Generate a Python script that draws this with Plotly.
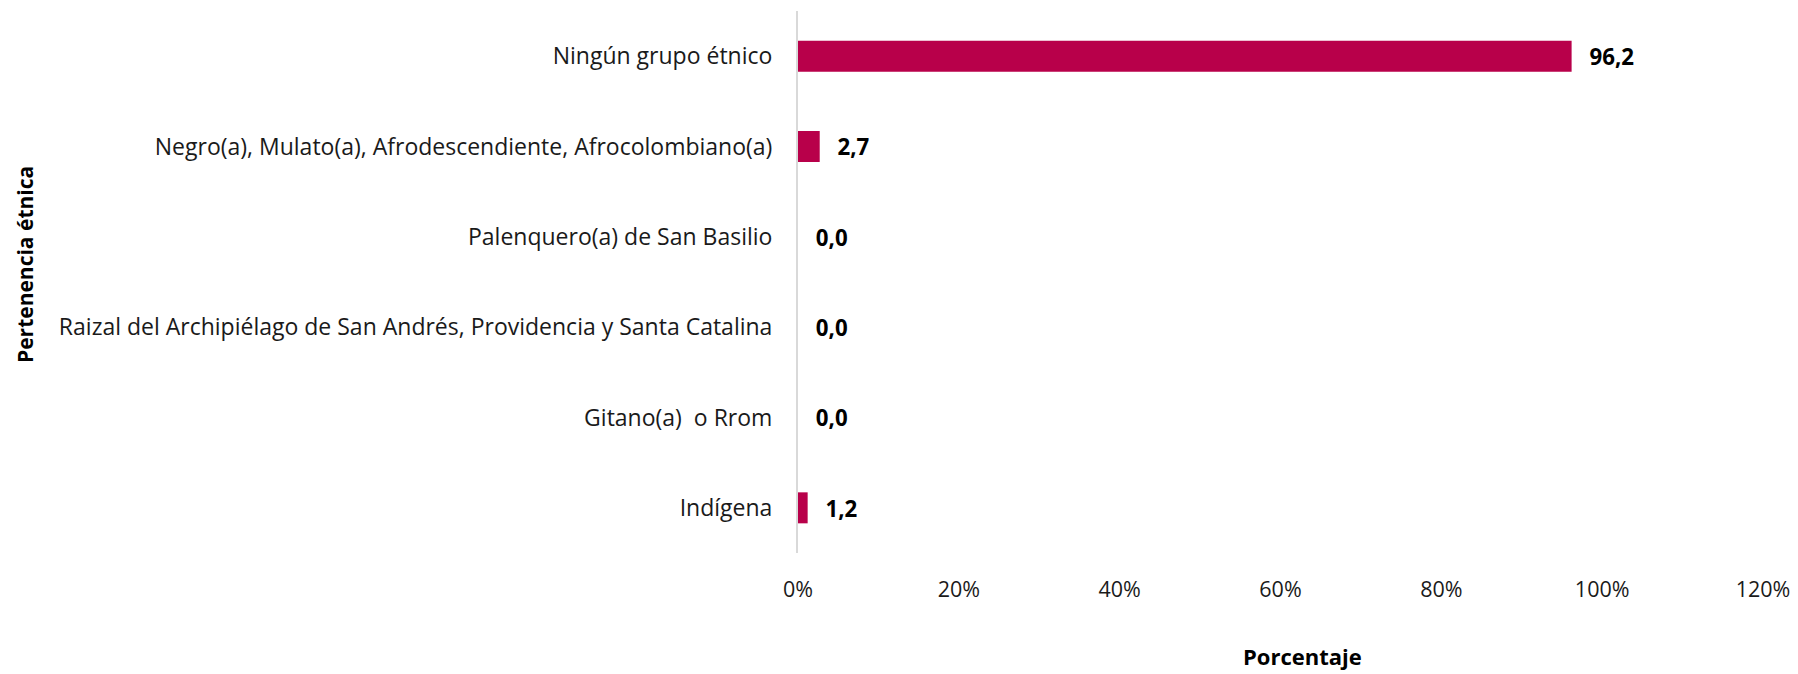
import plotly.graph_objects as go

categories = [
    "Ningún grupo étnico",
    "Negro(a), Mulato(a), Afrodescendiente, Afrocolombiano(a)",
    "Palenquero(a) de San Basilio",
    "Raizal del Archipiélago de San Andrés, Providencia y Santa Catalina",
    "Gitano(a)  o Rrom",
    "Indígena",
]
values = [96.2, 2.7, 0.0, 0.0, 0.0, 1.2]
x_ticks = [0, 20, 40, 60, 80, 100, 120]

# The page body has a default 8px margin, so the figure is laid out
# in a 1790x666 box that sits 8px right/down in the 1798x674 window.
OFF = 8
W, H = 1798 - OFF, 674 - OFF
L, T = 798 - OFF, 11 - OFF
plot_right, plot_bottom = 1763 - OFF, 553 - OFF
R, B = W - plot_right, H - plot_bottom
plot_w = W - L - R
plot_h = H - T - B

FONT = "Open Sans"

fig = go.Figure(
    go.Bar(
        x=values,
        y=categories,
        orientation="h",
        marker=dict(color="#B8004A", line=dict(width=0)),
        text=["\u2002\u2009" + f"{v:.1f}".replace(".", ",") for v in values],
        textposition="outside",
        textfont=dict(family=FONT, size=23, color="#000000", weight="bold"),
        cliponaxis=False,
        width=0.343,
    )
)

fig.update_layout(
    width=W,
    height=H,
    margin=dict(l=L, r=R, t=T, b=B),
    plot_bgcolor="white",
    paper_bgcolor="white",
    font=dict(family=FONT, size=23, color="#1a1a1a"),
    showlegend=False,
    annotations=[
        dict(
            text="<b>Porcentaje</b>",
            xref="paper", yref="paper",
            x=(1302 - OFF - L) / plot_w, y=-(656 - OFF - plot_bottom) / plot_h,
            xanchor="center", yanchor="middle",
            showarrow=False,
            font=dict(family=FONT, size=22, color="#000000"),
        ),
        dict(
            text="<b>Pertenencia étnica</b>",
            xref="paper", yref="paper",
            x=(25 - OFF - L) / plot_w, y=1 - (265 - OFF - T) / plot_h,
            xanchor="center", yanchor="middle",
            textangle=-90,
            showarrow=False,
            font=dict(family=FONT, size=21, color="#000000"),
        ),
    ],
)

fig.update_xaxes(
    range=[0, 120],
    tickvals=x_ticks,
    ticktext=[f"{t}%" for t in x_ticks],
    showgrid=False,
    zeroline=False,
    showline=False,
    ticks="",
    ticklabelstandoff=21,
    tickfont=dict(family=FONT, size=21.5, color="#1a1a1a"),
    fixedrange=True,
)
fig.update_yaxes(
    autorange="reversed",
    showgrid=False,
    zeroline=False,
    showline=True,
    linecolor="#D9D9D9",
    linewidth=2,
    ticks="",
    ticklabelstandoff=19,
    tickfont=dict(family=FONT, size=23, color="#1a1a1a"),
    fixedrange=True,
)

fig.write_html("out.html")
